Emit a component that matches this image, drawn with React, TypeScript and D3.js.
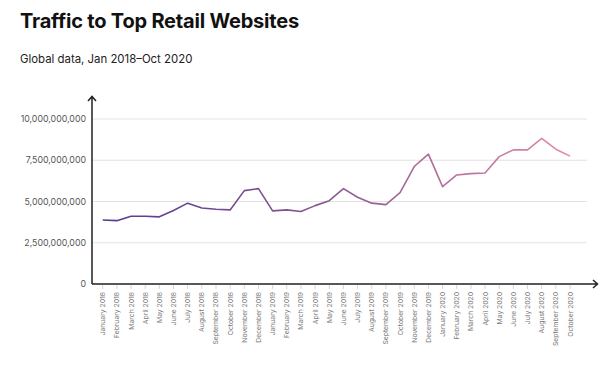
import React from "react";
import * as d3 from "d3";

const months = [
  "January 2018", "February 2018", "March 2018", "April 2018", "May 2018", "June 2018",
  "July 2018", "August 2018", "September 2018", "October 2018", "November 2018", "December 2018",
  "January 2019", "February 2019", "March 2019", "April 2019", "May 2019", "June 2019",
  "July 2019", "August 2019", "September 2019", "October 2019", "November 2019", "December 2019",
  "January 2020", "February 2020", "March 2020", "April 2020", "May 2020", "June 2020",
  "July 2020", "August 2020", "September 2020", "October 2020",
];

// monthly visits, billions
const visits = [
  3.88, 3.84, 4.11, 4.11, 4.07, 4.45, 4.9, 4.61, 4.53, 4.49, 5.66, 5.78,
  4.43, 4.49, 4.39, 4.75, 5.05, 5.78, 5.26, 4.9, 4.81, 5.54, 7.12, 7.87,
  5.9, 6.61, 6.69, 6.73, 7.72, 8.13, 8.13, 8.82, 8.17, 7.75,
];

const yTicks = [0, 2.5e9, 5e9, 7.5e9, 1e10];

const W = 602;
const H = 367;
const left = 92;
const bottom = 284;

export default function App() {
  const x = d3
    .scalePoint<string>()
    .domain(months)
    .range([102.7, 570]);
  const y = d3.scaleLinear().domain([0, 1e10]).range([bottom, 119]);

  const line = d3
    .line<number>()
    .x((_, i) => x(months[i]) as number)
    .y((d) => y(d * 1e9));

  const fmt = d3.format(",");

  return (
    <svg
      width={W}
      height={H}
      style={{ position: "absolute", left: 0, top: 0, background: "#fff" }}
      fontFamily="Inter, 'Noto Sans', sans-serif"
    >
      <defs>
        <linearGradient
          id="lineGrad"
          gradientUnits="userSpaceOnUse"
          x1={x(months[0])}
          x2={x(months[months.length - 1])}
          y1={0}
          y2={0}
        >
          <stop offset="0%" stopColor="#563a95" />
          <stop offset="50%" stopColor="#8c5a8f" />
          <stop offset="100%" stopColor="#e589ab" />
        </linearGradient>
      </defs>

      <text x={20} y={28} fontSize={20} fontWeight={700} fill="#111" letterSpacing={-0.2}>
        Traffic to Top Retail Websites
      </text>
      <text x={20} y={63} fontSize={11.4} fill="#222">
        Global data, Jan 2018–Oct 2020
      </text>

      {yTicks.map((t) => (
        <g key={t}>
          {t > 0 && (
            <line x1={left} x2={587} y1={y(t)} y2={y(t)} stroke="#e3e3e3" strokeWidth={1} />
          )}
          <text
            x={86}
            y={y(t)}
            dy="0.35em"
            textAnchor="end"
            fontSize={8.8}
            fill="#555"
          >
            {fmt(t)}
          </text>
        </g>
      ))}

      {months.map((m) => (
        <g key={m} transform={`translate(${x(m)},0)`}>
          <line y1={bottom + 1} y2={bottom + 5} stroke="#ccc" strokeWidth={0.8} />
          <text
            transform={`translate(2.5,${bottom + 8}) rotate(-90)`}
            textAnchor="end"
            fontSize={6.8}
            fill="#777"
          >
            {m}
          </text>
        </g>
      ))}

      <path
        d={line(visits) as string}
        fill="none"
        stroke="url(#lineGrad)"
        strokeWidth={1.6}
        strokeLinejoin="round"
      />

      {/* axes with arrows */}
      <path
        d={`M${left},${bottom} L${left},97 M${left - 4},101 L${left},96.5 L${left + 4},101`}
        fill="none"
        stroke="#222"
        strokeWidth={1.5}
      />
      <path
        d={`M${left},${bottom} L597,${bottom} M593,${bottom - 4} L597.5,${bottom} L593,${bottom + 4}`}
        fill="none"
        stroke="#222"
        strokeWidth={1.5}
      />
    </svg>
  );
}
